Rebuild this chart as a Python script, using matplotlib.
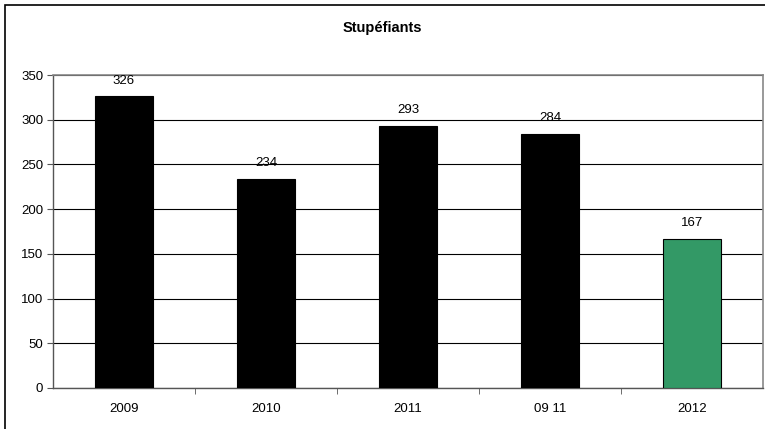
import matplotlib.pyplot as plt
from matplotlib.patches import Rectangle

plt.rcParams['font.family'] = ['Liberation Sans', 'DejaVu Sans']

categories = ['2009', '2010', '2011', '09 11', '2012']
values = [326, 234, 293, 284, 167]
colors = ['black', 'black', 'black', 'black', '#339966']
title = 'Stupéfiants'

fig = plt.figure(figsize=(7.65, 4.29), dpi=100)
ax = fig.add_axes([53 / 765, 41 / 429, 710 / 765, 313 / 429])

x = list(range(len(categories)))
bars = ax.bar(x, values, width=0.41, color=colors, edgecolor='black', linewidth=0.8, zorder=3)
for b, v in zip(bars, values):
    ax.annotate(str(v), (b.get_x() + b.get_width() / 2, v), xytext=(0, 7),
                textcoords='offset points', ha='center', va='bottom', fontsize=9.5)

ax.set_xlim(-0.5, len(categories) - 0.5)
ax.set_ylim(0, 350)
ax.set_yticks(range(0, 351, 50))
ax.yaxis.grid(True, color='black', linewidth=0.8, zorder=0)

ax.set_xticks(x)
ax.set_xticklabels(categories, fontsize=9.5)
ax.set_xticks([i + 0.5 for i in x[:-1]], minor=True)
ax.tick_params(axis='x', which='major', length=0, pad=10.5)
ax.tick_params(axis='x', which='minor', length=4, direction='out', color='#555555')
ax.tick_params(axis='y', length=4, direction='out', color='#555555', labelsize=9.5, pad=3)

for side in ['top', 'right']:
    ax.spines[side].set_color('#888888')
    ax.spines[side].set_linewidth(1.2)
for side in ['left', 'bottom']:
    ax.spines[side].set_color('#555555')
    ax.spines[side].set_linewidth(1)

fig.text(0.5, 1 - 28 / 429, title, ha='center', va='center', fontsize=10.5, fontweight='bold')

# outer frame of the chart area
fig.patches.append(Rectangle((5 / 765, -0.1), 1.2, 1 - 5 / 429 + 0.1, transform=fig.transFigure,
                             fill=False, edgecolor='black', linewidth=1.2))

fig.savefig('out.png', dpi=100)
